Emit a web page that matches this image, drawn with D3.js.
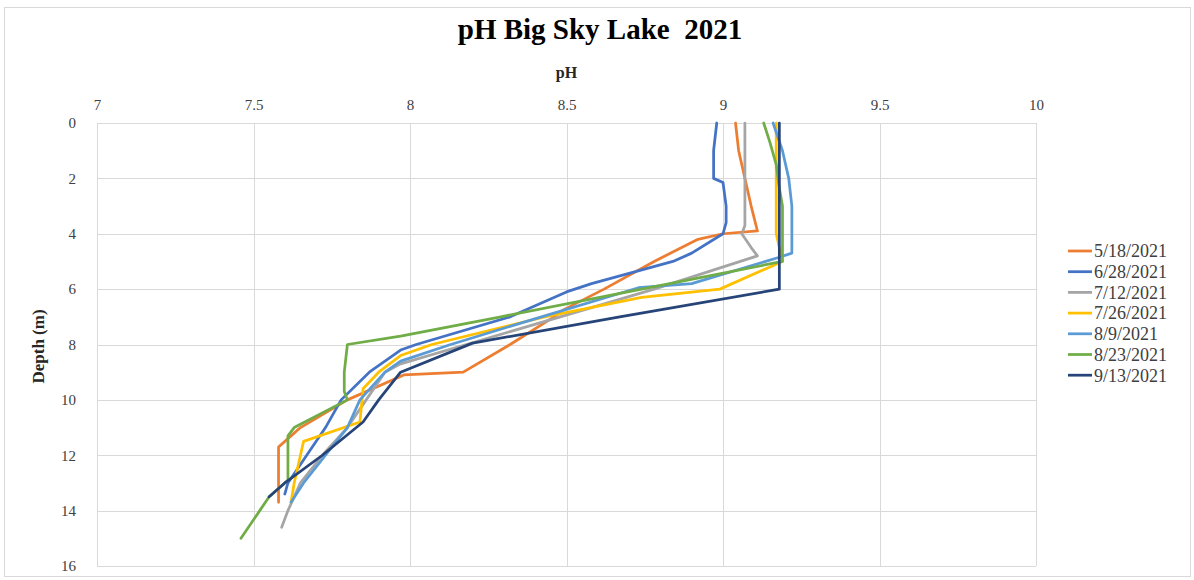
<!DOCTYPE html>
<html>
<head>
<meta charset="utf-8">
<script src="https://cdn.jsdelivr.net/npm/d3@7"></script>
<style>
  html, body { margin: 0; padding: 0; background: #fff; }
  svg { display: block; font-family: "Liberation Serif", "Times New Roman", serif; }
</style>
</head>
<body>
<svg id="chart" width="1194" height="580"></svg>
<script>
// ---- data ----
const seriesNames = ["5/18/2021", "6/28/2021", "7/12/2021", "7/26/2021", "8/9/2021", "8/23/2021", "9/13/2021"];
const seriesColors = ["#ED7D31", "#4472C4", "#A5A5A5", "#FFC000", "#5B9BD5", "#70AD47", "#264478"];

const depth0518 = [0, 1, 2, 3, 3.9, 4.0, 4.2, 5, 6, 6.75, 7, 8, 9, 9.1, 10, 11, 11.4, 11.7, 12, 13, 13.7];
const ph0518    = [9.04, 9.05, 9.07, 9.09, 9.11, 9.0, 8.92, 8.78, 8.62, 8.49, 8.46, 8.32, 8.17, 7.98, 7.80, 7.65, 7.61, 7.58, 7.58, 7.58, 7.58];

const depth0628 = [0, 1, 2, 2.15, 3, 3.6, 4, 4.7, 5, 5.8, 6.1, 7, 8, 8.2, 9, 10, 11, 12, 13, 13.4];
const ph0628    = [8.98, 8.97, 8.97, 9.0, 9.01, 9.01, 9.0, 8.9, 8.84, 8.58, 8.5, 8.32, 8.02, 7.97, 7.87, 7.78, 7.73, 7.67, 7.61, 7.60];

const depth0712 = [0, 1, 2, 3, 3.7, 4, 4.5, 4.8, 6, 7, 8, 8.7, 9, 10, 11, 12, 13, 14, 14.6];
const ph0712    = [9.07, 9.07, 9.07, 9.07, 9.07, 9.06, 9.09, 9.11, 8.78, 8.48, 8.18, 7.97, 7.92, 7.86, 7.80, 7.72, 7.65, 7.61, 7.59];

const depth0726 = [0, 1, 2, 3, 4, 5, 6, 6.3, 7, 8, 8.4, 9, 9.6, 10.8, 11.5, 12, 13, 13.7];
const ph0726    = [9.17, 9.17, 9.17, 9.17, 9.17, 9.19, 8.99, 8.74, 8.43, 8.07, 7.97, 7.90, 7.85, 7.84, 7.66, 7.65, 7.63, 7.62];

const depth0809 = [0, 1, 2, 3, 4, 4.7, 4.85, 5.8, 5.95, 7, 8, 8.6, 9, 10, 11, 12, 13, 13.7];
const ph0809    = [9.16, 9.19, 9.21, 9.22, 9.22, 9.22, 9.18, 8.90, 8.73, 8.42, 8.13, 7.97, 7.92, 7.84, 7.80, 7.73, 7.66, 7.62];

const depth0823 = [0, 0.7, 1.5, 2.35, 3, 4, 5, 6, 7, 7.7, 8, 9, 9.7, 10, 11, 11.3, 12, 12.9, 13.5, 14, 15];
const ph0823    = [9.13, 9.15, 9.17, 9.18, 9.19, 9.19, 9.19, 8.74, 8.29, 7.97, 7.80, 7.79, 7.79, 7.80, 7.63, 7.61, 7.61, 7.61, 7.55, 7.52, 7.46];

const depth0913 = [0, 1, 2, 3, 4, 5, 6, 7, 7.95, 9, 10, 10.8, 12, 13, 13.5];
const ph0913    = [9.18, 9.18, 9.18, 9.18, 9.18, 9.18, 9.18, 8.67, 8.20, 7.97, 7.90, 7.85, 7.72, 7.60, 7.55];

const xTicks = [7, 7.5, 8, 8.5, 9, 9.5, 10];
const yTicks = [0, 2, 4, 6, 8, 10, 12, 14, 16];

const chartTitle = "pH Big Sky Lake  2021";
const xTitle = "pH";
const yTitle = "Depth (m)";

// ---- build ----
const depthArrays = [depth0518, depth0628, depth0712, depth0726, depth0809, depth0823, depth0913];
const phArrays = [ph0518, ph0628, ph0712, ph0726, ph0809, ph0823, ph0913];
const series = seriesNames.map((name, i) => ({
  name, color: seriesColors[i],
  points: depthArrays[i].map((d, j) => ({ depth: d, ph: phArrays[i][j] }))
}));

const svg = d3.select("#chart");
const margin = { left: 97, right: 1194 - 1036, top: 123, bottom: 580 - 566 };
const W = 1194, H = 580;

const x = d3.scaleLinear().domain([7, 10]).range([margin.left, W - margin.right]);
const y = d3.scaleLinear().domain([0, 16]).range([margin.top, H - margin.bottom]);

// outer border
svg.append("rect").attr("x", 4.5).attr("y", 7.5).attr("width", 1186).attr("height", 569)
  .attr("fill", "#fff").attr("stroke", "#d9d9d9").attr("stroke-width", 1);

// gridlines
const grid = svg.append("g");
grid.selectAll("line.h").data(yTicks).join("line")
  .attr("x1", x(7)).attr("x2", x(10))
  .attr("y1", d => Math.round(y(d)) + 0.5).attr("y2", d => Math.round(y(d)) + 0.5)
  .attr("stroke", "#d9d9d9").attr("stroke-width", 1);
grid.selectAll("line.v").data(xTicks).join("line")
  .attr("y1", y(0)).attr("y2", y(16))
  .attr("x1", d => Math.round(x(d)) + 0.5).attr("x2", d => Math.round(x(d)) + 0.5)
  .attr("stroke", "#d9d9d9").attr("stroke-width", 1);

// axes (labels only)
const xAxis = d3.axisTop(x).tickValues(xTicks).tickFormat(d3.format("")).tickSize(0).tickPadding(0);
const gx = svg.append("g").attr("transform", `translate(0, ${y(0) - 13})`).call(xAxis);
gx.select(".domain").remove();
gx.selectAll("text").attr("font-family", "Liberation Serif, serif").attr("font-size", 15)
  .attr("fill", "#404040").attr("dy", "0");

const yAxis = d3.axisLeft(y).tickValues(yTicks).tickFormat(d3.format("")).tickSize(0).tickPadding(0);
const gy = svg.append("g").attr("transform", `translate(${x(7) - 21}, 0)`).call(yAxis);
gy.select(".domain").remove();
gy.selectAll("text").attr("font-family", "Liberation Serif, serif").attr("font-size", 15)
  .attr("fill", "#404040");

// lines
const line = d3.line().x(d => x(d.ph)).y(d => y(d.depth));
svg.append("g").selectAll("path").data(series).join("path")
  .attr("d", d => line(d.points))
  .attr("fill", "none")
  .attr("stroke", d => d.color)
  .attr("stroke-width", 2.75)
  .attr("stroke-linejoin", "round")
  .attr("stroke-linecap", "round");

// titles
svg.append("text").attr("x", 600).attr("y", 39).attr("text-anchor", "middle")
  .attr("font-size", 29).attr("font-weight", "bold").attr("fill", "#000")
  .style("white-space", "pre").text(chartTitle);
svg.append("text").attr("x", x(8.5)).attr("y", 78).attr("text-anchor", "middle")
  .attr("font-size", 16).attr("font-weight", "bold").attr("fill", "#262626").text(xTitle);
svg.append("text").attr("transform", `translate(44, ${y(8) + 2}) rotate(-90)`).attr("text-anchor", "middle")
  .attr("font-size", 17).attr("font-weight", "bold").attr("fill", "#262626").text(yTitle);

// legend
const legend = svg.append("g").attr("transform", "translate(1068, 251)");
const rows = legend.selectAll("g").data(series).join("g")
  .attr("transform", (d, i) => `translate(0, ${i * 20.7})`);
rows.append("line").attr("x1", 0).attr("x2", 24).attr("y1", 0).attr("y2", 0)
  .attr("stroke", d => d.color).attr("stroke-width", 2.75);
rows.append("text").attr("x", 26).attr("y", 0).attr("dy", "0.35em")
  .attr("font-size", 18).attr("fill", "#404040").text(d => d.name);
</script>
</body>
</html>
